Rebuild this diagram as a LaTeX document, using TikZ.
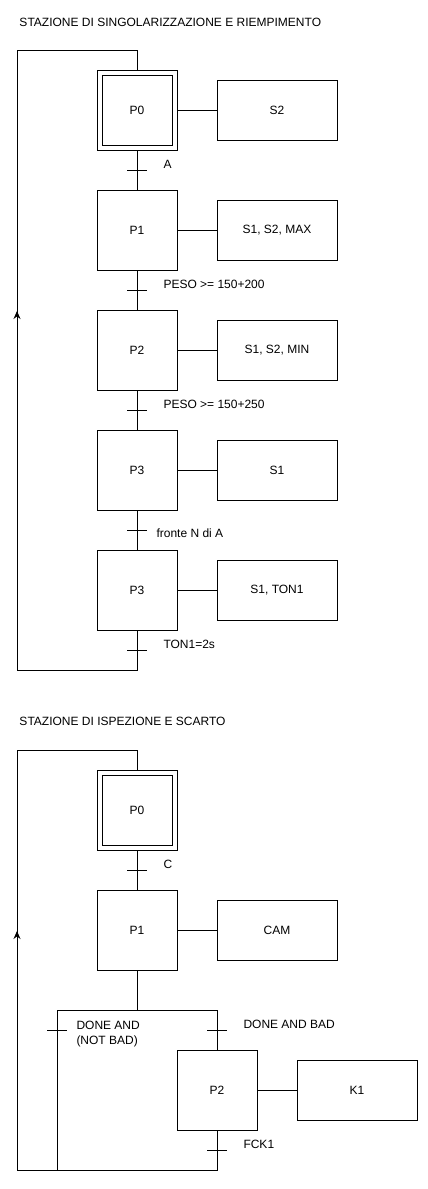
\documentclass[tikz,border=0pt]{standalone}
\usepackage{fontspec}
\setmainfont{Liberation Sans}
\usetikzlibrary{arrows.meta}
\tikzset{
  stepbox/.style={draw, minimum width=80pt, minimum height=80pt, inner sep=0pt},
  initbox/.style={draw, double, double distance=4pt, minimum width=75pt, minimum height=75pt, inner sep=0pt, outer sep=3pt},
  actbox/.style={draw, minimum width=120pt, minimum height=60pt, inner sep=0pt},
  cond/.style={anchor=base west, inner sep=0pt},
  up/.style={-{Stealth[length=8pt,width=7pt]}},
}
\begin{document}
\begin{tikzpicture}[x=1pt, y=-1pt, line width=1pt, font=\fontsize{12}{15}\selectfont]
    \useasboundingbox (0,0) rectangle (428,1189);

    % first station
    \node[cond] (title1) at (19,26.7) {STAZIONE DI SINGOLARIZZAZIONE E RIEMPIMENTO};
    \node[initbox] (P0) at (137,110) {P0};
    \node[stepbox] (P1) at (137,230) {P1};
    \node[stepbox] (P2) at (137,350) {P2};
    \node[stepbox] (P3) at (137,470) {P3};
    \node[stepbox] (P4) at (137,590) {P3};
    \node[actbox] (S2) at (277,110) {S2};
    \node[actbox] (A1) at (277,230) {S1, S2, MAX};
    \node[actbox] (A2) at (277,350) {S1, S2, MIN};
    \node[actbox] (A3) at (277,470) {S1};
    \node[actbox] (A4) at (277,590) {S1, TON1};
    \draw (P0) -- (S2);
    \draw (P1) -- (A1);
    \draw (P2) -- (A2);
    \draw (P3) -- (A3);
    \draw (P4) -- (A4);
    \draw (P0) -- (P1);
    \draw (P1) -- (P2);
    \draw (P2) -- (P3);
    \draw (P3) -- (P4);
    \foreach \y in {170,290,410,530,650}
        \draw (127,\y) -- (147,\y);
    \node[cond] (tA) at (163,168) {A};
    \node[cond] (tB) at (163,288.3) {PESO >= 150+200};
    \node[cond] (tC) at (163,408.3) {PESO >= 150+250};
    \node[cond] (tD) at (156,537) {fronte N di A};
    \node[cond] (tE) at (163,648) {TON1=2s};
    \coordinate (lb) at (17,670);
    \coordinate (la) at (17,311);
    \coordinate (lt) at (17,50);
    \draw (P4.south) |- (lb) -- (lt) -| (P0.north);
    \draw[up] (lb) -- (la);

    % second station
    \node[cond] (title2) at (19,725) {STAZIONE DI ISPEZIONE E SCARTO};
    \node[initbox] (Q0) at (137,810) {P0};
    \node[stepbox] (Q1) at (137,930) {P1};
    \node[stepbox] (Q2) at (217,1090) {P2};
    \node[actbox] (CAM) at (277,930) {CAM};
    \node[actbox] (K1) at (357,1090) {K1};
    \draw (Q1) -- (CAM);
    \draw (Q2) -- (K1);
    \draw (Q0) -- (Q1);
    \coordinate (dv) at (137,1010);
    \coordinate (dl) at (57,1010);
    \coordinate (dr) at (217,1010);
    \coordinate (el) at (57,1170);
    \coordinate (er) at (217,1170);
    \coordinate (mb) at (17,1170);
    \coordinate (ma) at (17,931);
    \coordinate (mt) at (17,750);
    \draw (Q1.south) -- (dv);
    \draw (dl) -- (dr) -- (Q2.north);
    \draw (dl) -- (el);
    \draw (Q2.south) -- (er) -- (mb) -- (mt) -| (Q0.north);
    \draw[up] (mb) -- (ma);
    \draw (127,870) -- (147,870);
    \draw (47,1030) -- (67,1030);
    \draw (207,1030) -- (227,1030);
    \draw (207,1150) -- (227,1150);
    \node[cond] (tF) at (163,868) {C};
    \node[anchor=west, inner sep=0pt, align=left] (tG) at (76,1034.5) {DONE AND\\(NOT BAD)};
    \node[cond] (tH) at (243,1028) {DONE AND BAD};
    \node[cond] (tI) at (243,1148.3) {FCK1};
\end{tikzpicture}
\end{document}
